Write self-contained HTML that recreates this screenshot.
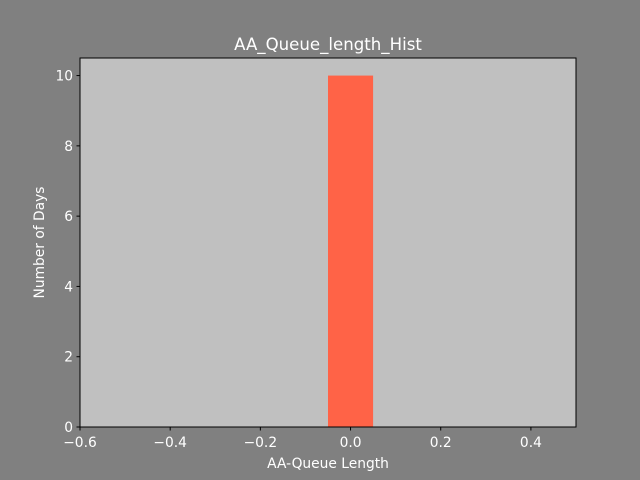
<!DOCTYPE html>
<html><head><meta charset="utf-8"><style>
html,body{margin:0;padding:0;background:#808080;}
svg{display:block;font-family:"DejaVu Sans","Liberation Sans",sans-serif;}
</style></head><body>
<svg id="chart" width="640" height="480">
<rect x="0" y="0" width="640" height="480" fill="#808080"/>
<rect x="80" y="58" width="496" height="369" fill="#c0c0c0"/>
<g id="bars"></g><g id="xt"></g><g id="yt"></g>
<rect x="80" y="58" width="496" height="369" fill="none" stroke="#000" stroke-width="1"/>
<text x="328" y="50" text-anchor="middle" font-size="16.6" fill="#fff">AA_Queue_length_Hist</text>
<text x="328" y="468" text-anchor="middle" font-size="13.8" fill="#fff">AA-Queue Length</text>
<text x="0" y="0" transform="translate(44,242.5) rotate(-90)" text-anchor="middle" font-size="13.8" fill="#fff">Number of Days</text>
</svg>
<script>
const binStarts=[-0.05];
const binEnds=[0.05];
const counts=[10];
const xTicks=[-0.6,-0.4,-0.2,0.0,0.2,0.4];
const xTickLabels=["−0.6","−0.4","−0.2","0.0","0.2","0.4"];
const yTicks=[0,2,4,6,8,10];
const yTickLabels=["0","2","4","6","8","10"];
const X0=80,X1=576,Y0=427,Y1=58,xmin=-0.6,xmax=0.5,ymin=0,ymax=10.5;
const sx=v=>X0+(v-xmin)/(xmax-xmin)*(X1-X0);
const sy=v=>Y0-(v-ymin)/(ymax-ymin)*(Y0-Y1);
const NS="http://www.w3.org/2000/svg";
function mk(t,a){const e=document.createElementNS(NS,t);for(const k in a)e.setAttribute(k,a[k]);return e;}
const bars=document.getElementById('bars');
counts.forEach((c,i)=>{
 const r=mk('rect',{x:sx(binStarts[i]),y:sy(c),width:sx(binEnds[i])-sx(binStarts[i]),height:sy(0)-sy(c),fill:'#ff6347'});
 
 
 bars.appendChild(r);
});
const xt=document.getElementById('xt');
xTicks.forEach((v,i)=>{
 const x=sx(v);
 const l=mk('line',{x1:x,x2:x,y1:427,y2:430.5,stroke:'#000'});
 
 
 xt.appendChild(l);
 const t=mk('text',{x:x,y:447,'text-anchor':'middle','font-size':13.8,fill:'#fff'});
 t.textContent=xTickLabels[i];
 
 
 xt.appendChild(t);
});
const yt=document.getElementById('yt');
yTicks.forEach((v,i)=>{
 const y=sy(v);
 const l=mk('line',{x1:76.5,x2:80,y1:y,y2:y,stroke:'#000'});
 
 
 yt.appendChild(l);
 const t=mk('text',{x:73,y:y+5,'text-anchor':'end','font-size':13.8,fill:'#fff'});
 t.textContent=yTickLabels[i];
 
 
 yt.appendChild(t);
});
</script>
</body></html>
